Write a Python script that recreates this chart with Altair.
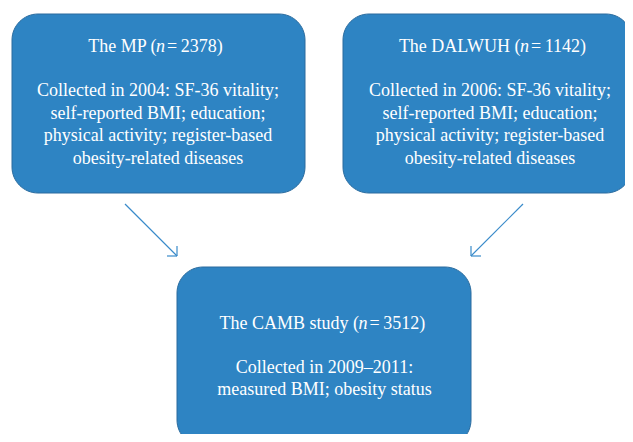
import altair as alt
import pandas as pd
import numpy as np

# ---- content ----
box_names = ["MP", "DALWUH", "CAMB"]
title_left = ["The MP (", "The DALWUH (", "The CAMB study ("]
title_right = ["=\u20092378)", "=\u20091142)", "=\u20093512)"]
body_lines = [
    ["Collected in 2004: SF-36 vitality;", "self-reported BMI; education;",
     "physical activity; register-based", "obesity-related diseases"],
    ["Collected in 2006: SF-36 vitality;", "self-reported BMI; education;",
     "physical activity; register-based", "obesity-related diseases"],
    ["Collected in 2009\u20132011:", "measured BMI; obesity status"],
]

# ---- layout (pixel coordinates of the diagram) ----
box_x0 = [12, 343, 177]
box_x1 = [305, 632, 471]
box_y0 = [14, 14, 267]
box_y1 = [193, 193, 446]
text_cx = [158, 490, 324.5]
title_baseline = [52, 52, 329]
n_center = [160.5, 524.5, 363]
body_baseline0 = [96, 96, 373]
body_step = [22.5, 22.5, 21.5]

arrow_start = [(125, 204), (523, 204)]
arrow_end = [(177, 256), (471, 256)]
head_len = 10

FILL = "#2E84C3"
EDGE = "#2A6B9E"
ARROW = "#3A8BCA"
FONT = "Liberation Serif"
FS = 18

W, H = 633, 442
xs = alt.Scale(domain=[0, W], nice=False, zero=False)
ys = alt.Scale(domain=[0, H], nice=False, zero=False, reverse=True)
X = lambda f: alt.X(f, type="quantitative", scale=xs, axis=None)
Y = lambda f: alt.Y(f, type="quantitative", scale=ys, axis=None)

boxes = pd.DataFrame({"name": box_names, "x0": box_x0, "x1": box_x1,
                      "y0": box_y0, "y1": box_y1})
rects = alt.Chart(boxes).mark_rect(
    cornerRadius=26, fill=FILL, stroke=EDGE, strokeWidth=1, clip=True
).encode(x=X("x0"), x2="x1", y=Y("y0"), y2="y1")

# arrows: shaft + two head arms
segs = []
for (sx, sy), (ex, ey) in zip(arrow_start, arrow_end):
    d = np.array([ex - sx, ey - sy], dtype=float)
    d /= np.linalg.norm(d)
    segs.append(dict(x=sx, y=sy, x2=ex, y2=ey))
    for ang in (np.pi / 4, -np.pi / 4):
        r = np.array([d[0] * np.cos(ang) - d[1] * np.sin(ang),
                      d[0] * np.sin(ang) + d[1] * np.cos(ang)])
        segs.append(dict(x=ex, y=ey, x2=ex - head_len * r[0], y2=ey - head_len * r[1]))
arrows = alt.Chart(pd.DataFrame(segs)).mark_rule(
    color=ARROW, strokeWidth=1.2
).encode(x=X("x"), x2="x2", y=Y("y"), y2="y2")

# titles in three pieces (italic n)
tl = pd.DataFrame({"t": title_left, "x": [c - 4 for c in n_center], "y": title_baseline})
tn = pd.DataFrame({"t": ["n"] * 3, "x": n_center, "y": title_baseline})
tr = pd.DataFrame({"t": title_right, "x": [c + 6.5 for c in n_center], "y": title_baseline})

def txt(df, align, style="normal"):
    return alt.Chart(df).mark_text(
        align=align, baseline="alphabetic", font=FONT, fontSize=FS,
        fontStyle=style, color="white"
    ).encode(x=X("x"), y=Y("y"), text="t:N")

rows = []
for i, lines in enumerate(body_lines):
    for j, line in enumerate(lines):
        rows.append(dict(t=line, x=text_cx[i], y=body_baseline0[i] + j * body_step[i]))
body = txt(pd.DataFrame(rows), "center")

chart = alt.layer(
    rects, arrows, txt(tl, "right"), txt(tn, "center", "italic"), txt(tr, "left"), body
).properties(
    width=W, height=H, autosize="none",
    padding={"left": -8, "top": -8, "right": -8, "bottom": -8},
).configure_view(stroke=None)

chart.save("out.html", embed_options={"renderer": "svg", "actions": False})
